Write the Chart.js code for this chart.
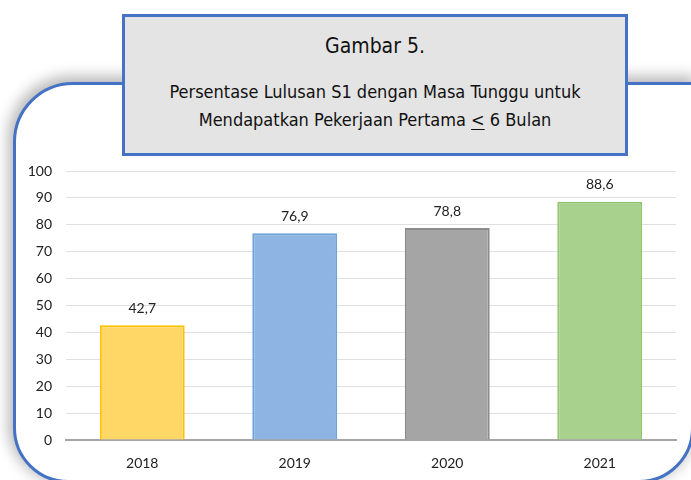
<!DOCTYPE html>
<html lang="id">
<head>
<meta charset="UTF-8">
<title>Gambar 5</title>
<script src="https://cdn.jsdelivr.net/npm/chart.js"></script>
<style>
  html, body { margin: 0; padding: 0; background: #fff; }
  body { width: 691px; height: 480px; position: relative; overflow: hidden; }
  .panel {
    position: absolute; left: 13px; top: 82px; width: 675px; height: 395px;
    border: 3px solid #4472c4; border-radius: 60px 0 55px 55px;
    background: #fff;
    box-shadow: -2px -3px 14px 3px rgba(0,0,0,0.28);
  }
  #wrap { position: absolute; left: 0; top: 0; width: 691px; height: 480px; }
  .judul {
    position: absolute; left: 122px; top: 14px; width: 500px; height: 136px;
    border: 3px solid #4472c4; background: #e4e4e4;
    font-family: "DejaVu Sans Condensed", "DejaVu Sans", sans-serif;
    font-stretch: condensed;
    color: #111; text-align: center;
  }
  .judul .g { font-size: 21px; margin-top: 15px; line-height: 28px; }
  .judul .s { font-size: 18px; line-height: 28px; margin-top: 18px; }
  .judul u { text-underline-offset: 3px; }
</style>
</head>
<body>
<div class="panel"></div>
<div id="wrap"><canvas id="c" width="691" height="480"></canvas></div>
<div class="judul">
  <div class="g">Gambar 5.</div>
  <div class="s">Persentase Lulusan S1 dengan Masa Tunggu untuk<br>Mendapatkan Pekerjaan Pertama <u>&lt;</u> 6 Bulan</div>
</div>
<script>
const tahun = ['2018', '2019', '2020', '2021'];
const persen = [42.7, 76.9, 78.8, 88.6];
const warnaIsi = ['#fed766', '#8db4e2', '#a5a5a5', '#a9d18e'];
const warnaTepi = ['#ffc000', '#6fa3d8', '#8c8c8c', '#92c572'];

// label angka di atas batang (pengganti plugin datalabels)
const labelAngka = {
  id: 'labelAngka',
  afterDatasetsDraw(chart) {
    const ctx = chart.ctx;
    const meta = chart.getDatasetMeta(0);
    ctx.save();
    ctx.font = '14px Lato, "Open Sans", sans-serif';
    ctx.fillStyle = '#222';
    ctx.textAlign = 'center';
    ctx.textBaseline = 'bottom';
    meta.data.forEach((bar, i) => {
      ctx.fillText(persen[i].toFixed(1).replace('.', ','), bar.x, bar.y - 10);
    });
    ctx.restore();
  }
};

Chart.defaults.font.family = 'Lato, "Open Sans", sans-serif';
Chart.defaults.font.size = 14;
Chart.defaults.color = '#222';

new Chart(document.getElementById('c'), {
  type: 'bar',
  data: {
    labels: tahun,
    datasets: [{
      data: persen,
      backgroundColor: warnaIsi,
      borderColor: warnaTepi,
      borderWidth: 2,
      barPercentage: 0.557,
      categoryPercentage: 1
    }]
  },
  options: {
    responsive: false,
    animation: false,
    layout: { padding: { left: 20, right: 15, top: 171, bottom: 0 } },
    plugins: { legend: { display: false }, tooltip: { enabled: false } },
    scales: {
      x: {
        grid: { display: false, drawTicks: false },
        border: { display: true, color: '#a6a6a6', width: 2 },
        ticks: { padding: 15 },
        afterFit(s) { s.height = 40; }
      },
      y: {
        min: 0, max: 100,
        ticks: { stepSize: 10, padding: 14 },
        grid: { color: '#e0e0e0', lineWidth: 1, drawTicks: false },
        border: { display: false },
        afterFit(s) { s.width = 46; }
      }
    }
  },
  plugins: [labelAngka]
});
</script>
</body>
</html>
